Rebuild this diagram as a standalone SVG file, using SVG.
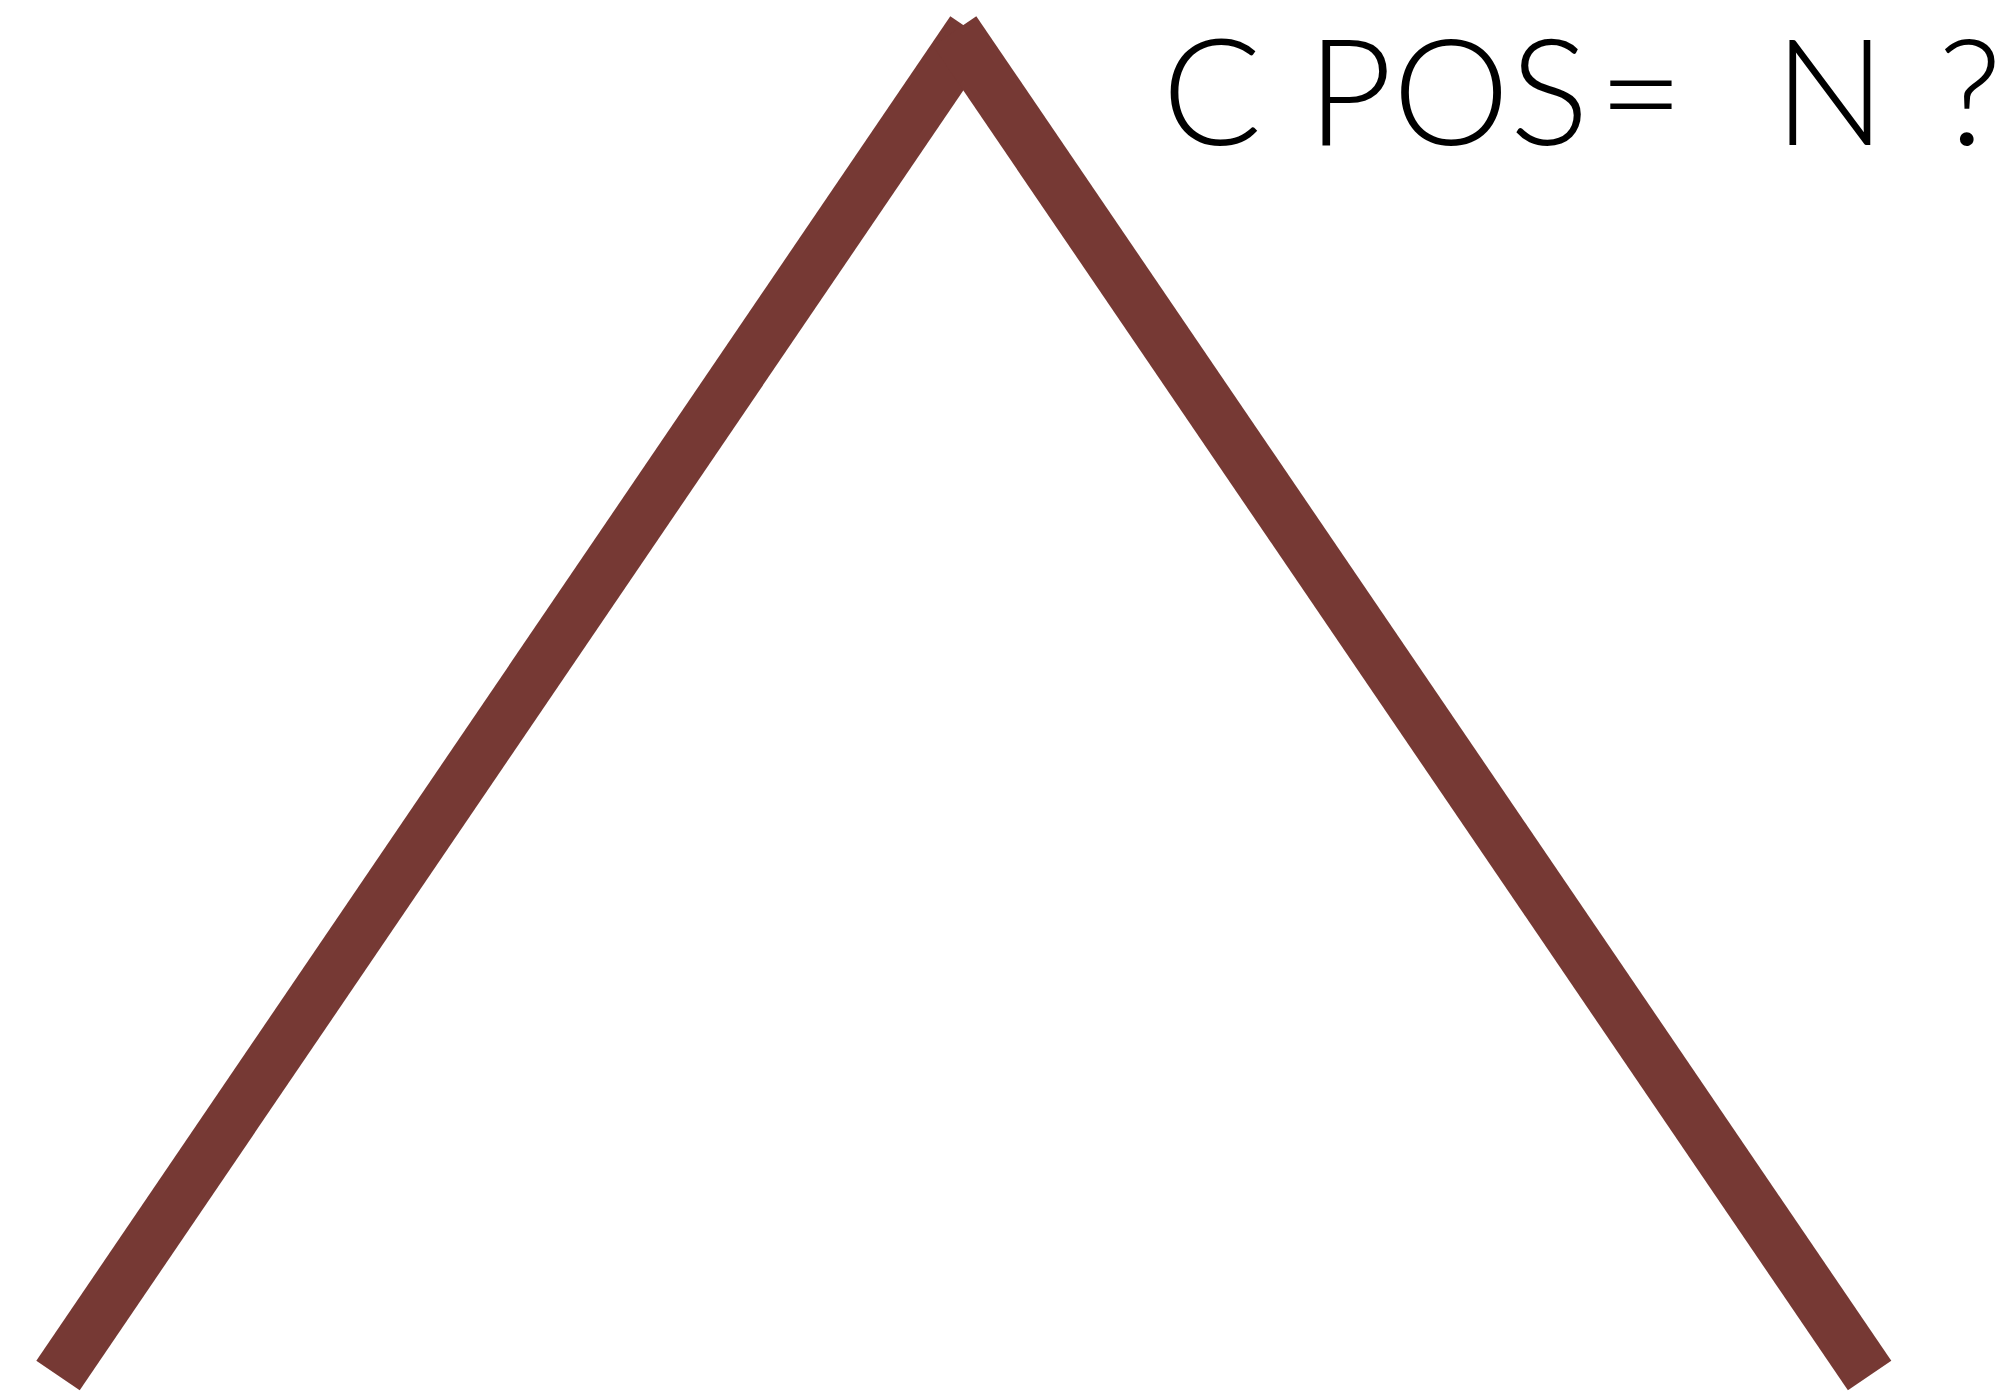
<svg xmlns="http://www.w3.org/2000/svg" width="2008" height="1392" viewBox="0 0 2008 1392">
<style>
.edge{stroke:#763934;stroke-width:52.5;stroke-linecap:butt;fill:none}
.lbl{font-family:Lato,"Open Sans","Liberation Sans",sans-serif;font-weight:300;font-size:148px;fill:#000}
</style>
<rect width="2008" height="1392" fill="#fff"/>
<g id="connectors">
<line class="edge" x1="972" y1="31" x2="58" y2="1375.5"/>
<line class="edge" x1="954.6" y1="31" x2="1869.6" y2="1375.5"/>
</g>
<g id="label">
<text class="lbl" y="144.7"><tspan x="1162">C </tspan><tspan x="1307">POS </tspan><tspan x="1598">= </tspan><tspan x="1774">N </tspan><tspan x="1938">?</tspan></text>
</g>
</svg>
